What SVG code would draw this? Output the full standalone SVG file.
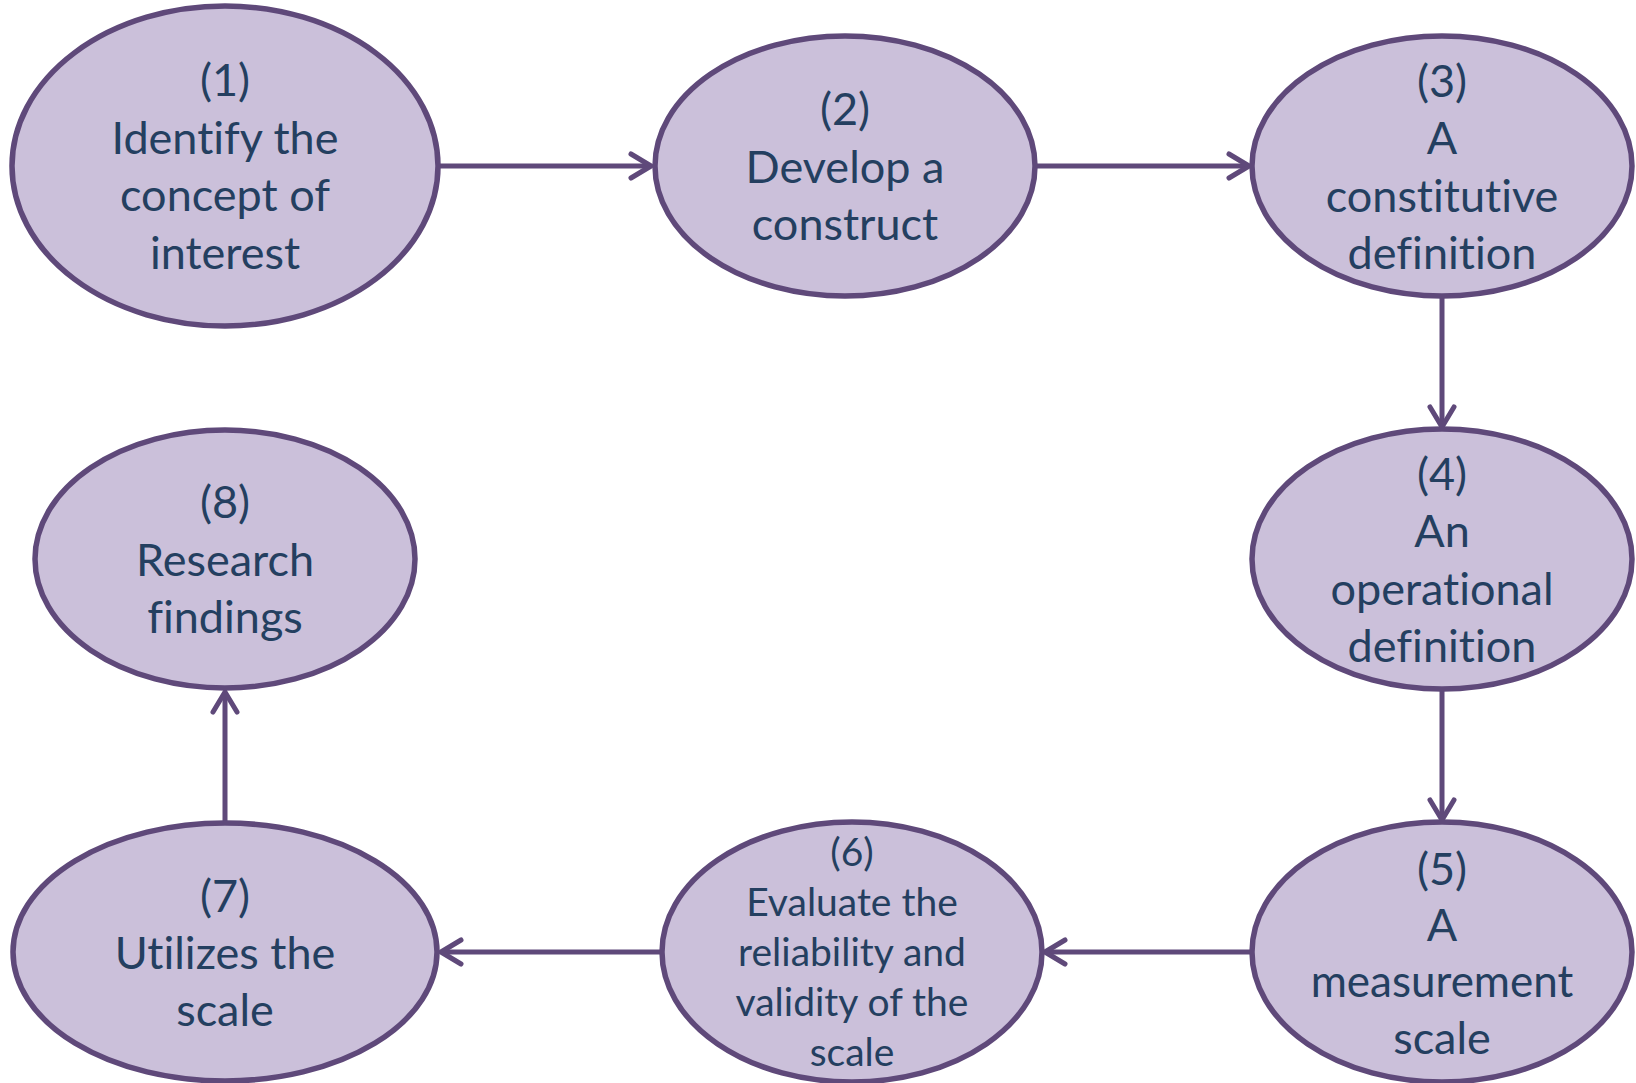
<svg xmlns="http://www.w3.org/2000/svg" width="1636" height="1083" viewBox="0 0 1636 1083">
  <style>
    .node ellipse { fill: #CBC0DA; stroke: #5F497A; stroke-width: 5.5; }
    .node text { font-family: Lato, "Liberation Sans", sans-serif; font-size: 45px; fill: #243F60; text-anchor: middle; font-variant-ligatures: none; font-feature-settings: "liga" 0, "clig" 0; }
    .node text.small { font-size: 39px; }
    .node text.narrow { font-size: 44px; }
    .conn line { stroke: #5F497A; stroke-width: 5; fill: none; marker-end: url(#arrow); }
  </style>
  <defs>
    <marker id="arrow" markerUnits="userSpaceOnUse" viewBox="-26 -16 30 32" refX="0" refY="0" markerWidth="30" markerHeight="32" orient="auto" overflow="visible">
      <path d="M-20,-12 L0,0 L-20,12" fill="none" stroke="#5F497A" stroke-width="5" stroke-linecap="round" stroke-linejoin="round"/>
    </marker>
  </defs>
  <rect width="1636" height="1083" fill="#FFFFFF"/>

  <g id="connectors" class="conn">
    <line x1="438" y1="166" x2="651" y2="166"/>
    <line x1="1035" y1="166" x2="1249" y2="166"/>
    <line x1="1442" y1="296" x2="1442" y2="427"/>
    <line x1="1442" y1="689" x2="1442" y2="820"/>
    <line x1="1252" y1="952" x2="1045" y2="952"/>
    <line x1="661" y1="952" x2="441" y2="952"/>
    <line x1="225" y1="823" x2="225" y2="692"/>
  </g>

  <g id="node1" class="node">
    <ellipse cx="225" cy="166" rx="213" ry="160"/>
    <text x="225" y="96">(1)</text>
    <text x="225" y="154">Identify the</text>
    <text x="225" y="211">concept of</text>
    <text x="225" y="269">interest</text>
  </g>
  <g id="node2" class="node">
    <ellipse cx="845" cy="166" rx="190" ry="130"/>
    <text x="845" y="125">(2)</text>
    <text x="845" y="183">Develop a</text>
    <text x="845" y="240">construct</text>
  </g>
  <g id="node3" class="node">
    <ellipse cx="1442" cy="166" rx="190" ry="130"/>
    <text x="1442" y="97">(3)</text>
    <text x="1442" y="154">A</text>
    <text x="1442" y="212">constitutive</text>
    <text x="1442" y="269">definition</text>
  </g>
  <g id="node4" class="node">
    <ellipse cx="1442" cy="559" rx="190" ry="130"/>
    <text x="1442" y="490">(4)</text>
    <text x="1442" y="547">An</text>
    <text x="1442" y="605">operational</text>
    <text x="1442" y="662">definition</text>
  </g>
  <g id="node5" class="node">
    <ellipse cx="1442" cy="952" rx="190" ry="130"/>
    <text x="1442" y="885">(5)</text>
    <text x="1442" y="941">A</text>
    <text class="narrow" x="1442" y="997">measurement</text>
    <text x="1442" y="1054">scale</text>
  </g>
  <g id="node6" class="node">
    <ellipse cx="852" cy="952" rx="190" ry="130"/>
    <text class="small" x="852" y="866">(6)</text>
    <text class="small" x="852" y="916">Evaluate the</text>
    <text class="small" x="852" y="966">reliability and</text>
    <text class="small" x="852" y="1016">validity of the</text>
    <text class="small" x="852" y="1066">scale</text>
  </g>
  <g id="node7" class="node">
    <ellipse cx="225" cy="952" rx="212" ry="129"/>
    <text x="225" y="912">(7)</text>
    <text x="225" y="969">Utilizes the</text>
    <text x="225" y="1026">scale</text>
  </g>
  <g id="node8" class="node">
    <ellipse cx="225" cy="559" rx="190" ry="129"/>
    <text x="225" y="518">(8)</text>
    <text x="225" y="576">Research</text>
    <text x="225" y="633">findings</text>
  </g>
</svg>
